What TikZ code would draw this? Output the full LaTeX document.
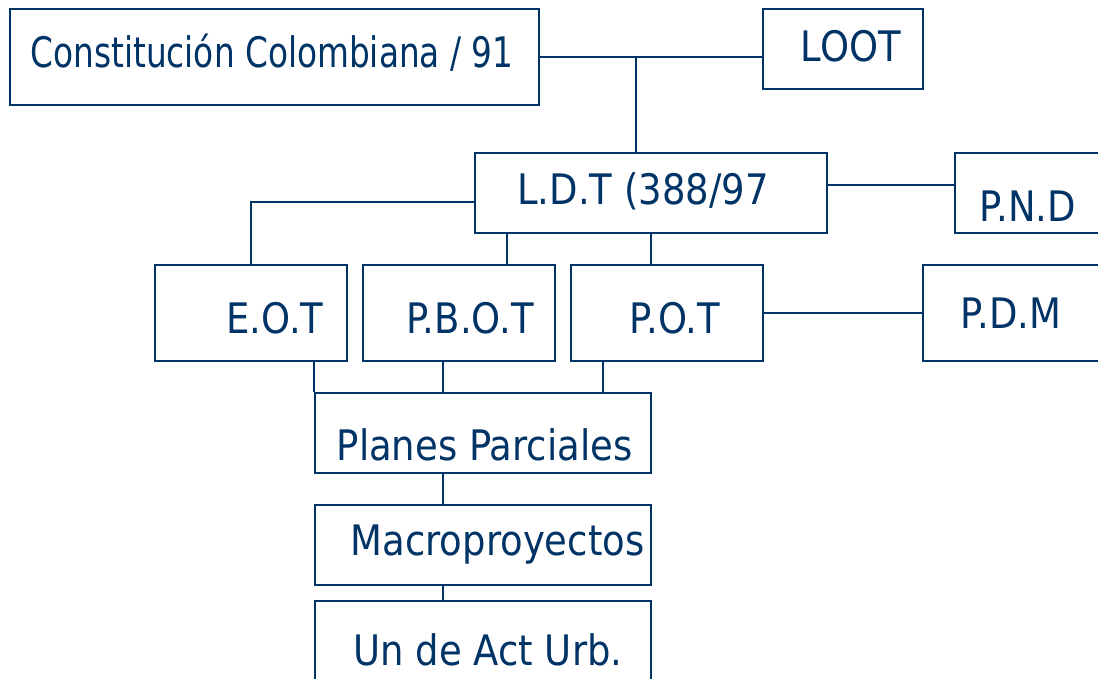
\documentclass[tikz,border=0pt]{standalone}
\usepackage{fontspec}
\setmainfont{DejaVu Sans}[FakeStretch=0.88]
\newfontfamily\narrowfont{DejaVu Sans}[FakeStretch=0.78]
\definecolor{navy}{HTML}{003366}

\begin{document}
\begin{tikzpicture}[x=1pt, y=-1pt,
  box/.style={draw=navy, line width=1.9pt, rectangle, inner sep=0pt},
  lbl/.style={text=navy, anchor=base, inner sep=0pt, font=\fontsize{42}{50}\selectfont},
  link/.style={draw=navy, line width=1.9pt}]
\useasboundingbox (0,0) rectangle (1098,679);
\clip (0,0) rectangle (1098,679);
% Boxes
\node[box, minimum width=529, minimum height=96] (cc) at (274.5,57) {};
\node[box, minimum width=160, minimum height=80] (loot) at (843,49) {};
\node[box, minimum width=352, minimum height=80] (ldt) at (651,193) {};
\node[box, minimum width=175, minimum height=80] (pnd) at (1042.5,193) {};
\node[box, minimum width=192, minimum height=96] (eot) at (251,313) {};
\node[box, minimum width=192, minimum height=96] (pbot) at (459,313) {};
\node[box, minimum width=192, minimum height=96] (pot) at (667,313) {};
\node[box, minimum width=207, minimum height=96] (pdm) at (1026.5,313) {};
\node[box, minimum width=336, minimum height=80] (pp) at (483,433) {};
\node[box, minimum width=336, minimum height=80] (macro) at (483,545) {};
\node[box, minimum width=336, minimum height=96] (uau) at (483,649) {};
% Labels
\node[lbl, font=\fontsize{42}{50}\narrowfont] (cc-t) at (272,68) {Constitución Colombiana / 91};
\node[lbl] (loot-t) at (851,62) {LOOT};
\node[lbl] (ldt-t) at (643,205) {L.D.T (388/97};
\node[lbl] (pnd-t) at (1028,222) {P.N.D};
\node[lbl] (eot-t) at (275,333) {E.O.T};
\node[lbl] (pbot-t) at (470,333) {P.B.O.T};
\node[lbl] (pot-t) at (675,333) {P.O.T};
\node[lbl] (pdm-t) at (1011,328) {P.D.M};
\node[lbl] (pp-t) at (484.5,460) {Planes Parciales};
\node[lbl] (macro-t) at (497.5,555) {Macroproyectos};
\node[lbl] (uau-t) at (488,665) {Un de Act Urb.};
% Fork points
\coordinate (fork-top) at (636,57);
\coordinate (fork-left) at ([yshift=-9pt]ldt.west);
\coordinate (fork-right) at ([yshift=8pt]ldt.east);
\coordinate (tap-pbot) at ([xshift=-144pt]ldt.south);
% Connectors
\draw[link] (cc.east) -- (cc.east -| loot.west);
\draw[link] (fork-top) -- (fork-top |- ldt.north);
\draw[link] (fork-right) -- (fork-right -| pnd.west);
\draw[link] (fork-left) -| (eot.north);
\draw[link] (tap-pbot) -- (tap-pbot |- pbot.north);
\draw[link] (ldt.south) -- (ldt.south |- pot.north);
\draw[link] (pot.east) -- (pdm.west);
\draw[link] (eot.south -| pp.north west) -- (pp.north west);
\draw[link] ([xshift=-16pt]pbot.south) -- ([xshift=-16pt]pbot.south |- pp.north);
\draw[link] ([xshift=-64pt]pot.south) -- ([xshift=-64pt]pot.south |- pp.north);
\draw[link] ([xshift=-40pt]pp.south) -- ([xshift=-40pt]macro.north);
\draw[link] ([xshift=-40pt]macro.south) -- ([xshift=-40pt]uau.north);
\end{tikzpicture}
\end{document}
